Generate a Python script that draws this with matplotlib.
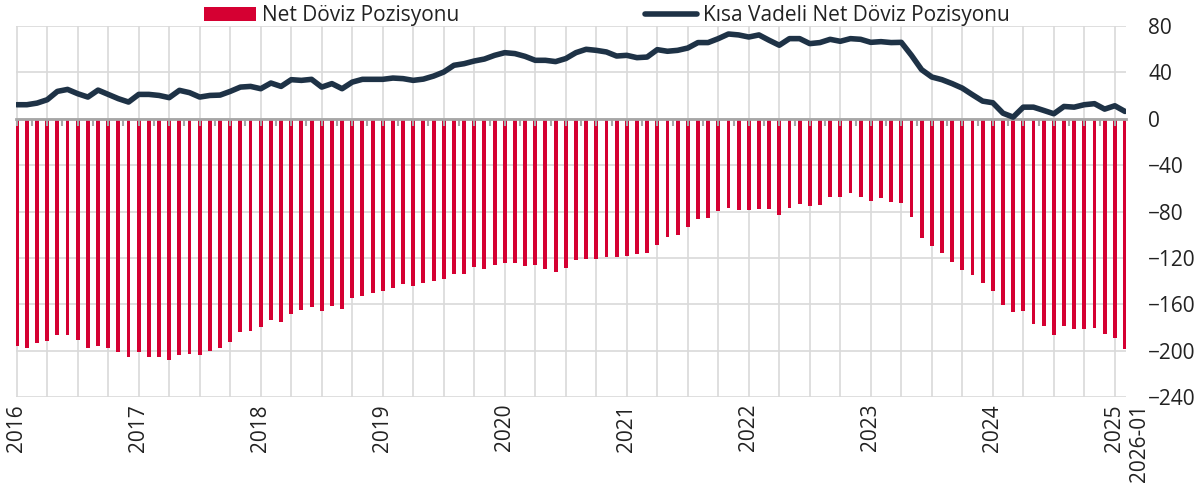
import numpy as np
import pandas as pd
import matplotlib
matplotlib.use("Agg")
import matplotlib.pyplot as plt
import matplotlib.transforms as mtransforms
from matplotlib.ticker import MultipleLocator

plt.rcParams['font.family'] = ['Open Sans', 'DejaVu Sans']

# monthly categories 2016-01 .. 2025-01, then 2026-01
months = [str(p) for p in pd.period_range("2016-01", "2025-01", freq="M")] + ["2026-01"]

net_pos = [
    -195.9, -197.4, -193.6, -191.6, -186.2, -186.7, -191.0, -197.4, -195.7, -197.7,
    -201.1, -205.2, -201.1, -205.2, -205.7, -208.0, -203.7, -202.9, -203.4, -200.3,
    -197.7, -192.7, -184.1, -183.0, -179.8, -173.7, -174.9, -168.0, -165.1, -162.5,
    -165.9, -161.6, -163.7, -154.7, -152.5, -150.1, -148.4, -146.1, -142.6, -144.1,
    -141.5, -140.3, -138.0, -134.3, -133.7, -128.2, -130.0, -126.2, -124.8, -124.2,
    -127.1, -126.2, -129.6, -132.2, -128.8, -122.2, -120.7, -120.7, -119.6, -119.6,
    -118.2, -117.0, -116.2, -108.9, -102.0, -100.3, -93.1, -86.8, -85.6, -79.7,
    -76.6, -78.5, -78.5, -78.0, -78.0, -82.6, -76.8, -73.2, -74.9, -74.7,
    -67.8, -67.2, -64.0, -67.8, -70.9, -68.6, -71.5, -72.6, -84.6, -102.9,
    -109.5, -116.2, -123.6, -130.2, -134.6, -141.5, -148.7, -160.5, -166.6, -165.4,
    -176.7, -178.4, -186.4, -178.9, -181.5, -181.2, -180.4, -185.3, -189.3, -198.8,
]

short_pos = [
    12.1, 12.1, 13.5, 16.4, 23.6, 25.3, 21.6, 18.7, 24.7, 21.0,
    17.3, 14.4, 21.0, 21.0, 20.1, 18.2, 24.5, 22.5, 18.7, 20.1,
    20.4, 23.6, 27.3, 27.9, 25.9, 30.8, 27.9, 33.7, 33.1, 34.0,
    27.3, 30.3, 25.9, 31.6, 34.0, 34.0, 34.0, 35.1, 34.6, 33.1,
    34.2, 36.8, 40.3, 46.1, 47.5, 49.8, 51.5, 54.7, 57.0, 56.2,
    53.8, 50.4, 50.4, 49.3, 51.9, 57.0, 59.9, 59.0, 57.6, 54.1,
    54.7, 52.7, 53.2, 59.6, 58.2, 59.0, 61.0, 65.7, 65.7, 69.1,
    73.1, 72.3, 70.5, 72.3, 67.7, 63.4, 69.1, 69.1, 64.8, 65.7,
    68.5, 66.8, 69.1, 68.5, 65.9, 66.5, 65.7, 65.9, 54.7, 42.3,
    36.0, 33.7, 30.3, 26.4, 20.7, 15.2, 13.8, 4.8, 1.4, 10.0,
    10.0, 7.2, 4.3, 10.6, 10.0, 12.1, 13.0, 8.3, 11.2, 6.3,
]

red = "#D50032"
navy = "#1E3246"
grid_c = "#D9D9D9"
text_c = "#222222"
fs = 15

x = np.arange(len(months))

fig = plt.figure(figsize=(12, 4.98), dpi=100)
ax = fig.add_axes([0.01308, 0.2028, 0.92525, 0.745])

bars = ax.bar(x, net_pos, width=0.38, color=red, zorder=2, label="Net Döviz Pozisyonu")
line, = ax.plot(x, short_pos, color=navy, lw=4, solid_capstyle="round",
                solid_joinstyle="round", zorder=4, label="Kısa Vadeli Net Döviz Pozisyonu")

ax.set_xlim(-0.1, len(months) - 1 + 0.1)
ax.set_ylim(-240, 80)
ax.set_yticks(np.arange(-240, 81, 40))
ax.yaxis.tick_right()
ax.tick_params(axis="y", length=0, pad=16, labelsize=fs, labelcolor=text_c)

# year labels + last period
tick_idx = list(range(0, len(months) - 1, 12)) + [len(months) - 1]
tick_lbl = [months[i][:4] for i in tick_idx[:-1]] + [months[-1]]
ax.set_xticks(tick_idx)
ax.set_xticklabels(tick_lbl, rotation=90, fontsize=fs, color=text_c)
ax.set_xticks(range(0, len(months), 3), minor=True)
ax.xaxis.remove_overlapping_locs = False
ax.tick_params(axis="x", which="both", length=0, pad=5)
last = ax.get_xticklabels()[-1]
last.set_transform(last.get_transform() +
                   mtransforms.ScaledTranslation(0.15, 0, fig.dpi_scale_trans))

ax.grid(axis="x", which="minor", color=grid_c, lw=1.2, zorder=0)
ax.grid(axis="y", which="major", color=grid_c, lw=1.2, zorder=0)
ax.set_axisbelow(True)
for s in ax.spines.values():
    s.set_visible(False)

# zero line with small ticks
zero_frac = (0 - (-240)) / (80 - (-240))
sec = ax.secondary_xaxis(zero_frac)
sec.xaxis.set_major_locator(MultipleLocator(1.5))
sec.tick_params(axis="x", direction="in", length=5, width=1.5, color="#A6A6A6",
                labeltop=False, labelbottom=False)
for s in sec.spines.values():
    s.set_color("#A6A6A6")
    s.set_linewidth(2)
sec.set_zorder(3)

fig.legend(handles=[bars, line], loc="center", bbox_to_anchor=(0.506, 0.968), ncol=2,
           frameon=False, fontsize=fs, handlelength=2.5, handletextpad=0.3,
           columnspacing=8.9, labelcolor=text_c)

fig.savefig("out.png", dpi=100)
